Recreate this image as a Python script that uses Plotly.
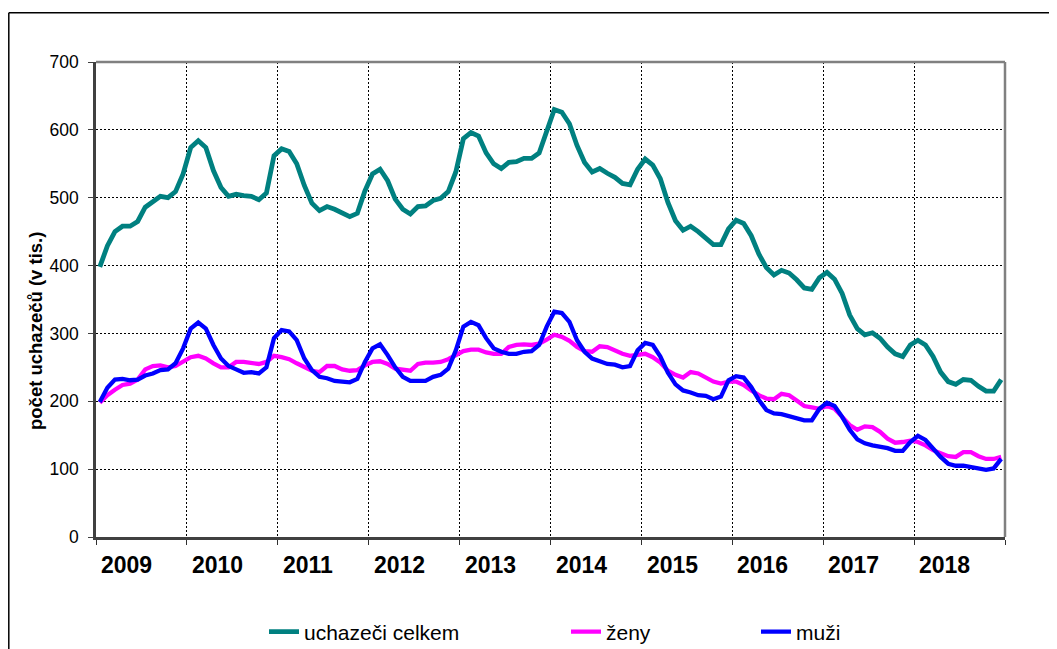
import plotly.graph_objects as go

# ---- data (monthly, Jan 2009 - Dec 2018), thousands ----
years = ["2009", "2010", "2011", "2012", "2013", "2014", "2015", "2016", "2017", "2018"]

uchazeci_celkem = [
    398, 429, 450, 458, 458, 465, 486, 495, 502, 500, 509, 535,
    574, 584, 574, 540, 515, 502, 505, 503, 502, 497, 507, 562,
    572, 568, 550, 518, 492, 481, 487, 483, 477, 472, 477, 510,
    535, 542, 525, 498, 483, 476, 487, 488, 496, 499, 509, 538,
    587, 596, 591, 566, 550, 543, 552, 553, 558, 558, 566, 597,
    630, 626, 609, 577, 552, 538, 543, 536, 530, 521, 519, 542,
    557, 548, 528, 493, 466, 452, 458, 450, 440, 431, 431, 454,
    467, 462, 444, 417, 397, 386, 393, 389, 379, 367, 365, 382,
    390, 380, 359, 327, 307, 298, 301, 293, 280, 270, 266, 283,
    290, 283, 266, 243, 229, 225, 232, 231, 222, 215, 215, 232,
]

zeny = [
    198, 209, 217, 224, 226, 232, 247, 252, 253, 250, 252, 258,
    265, 267, 263, 256, 250, 250, 258, 258, 257, 255, 258, 267,
    265, 262, 256, 250, 245, 243, 252, 252, 247, 245, 246, 253,
    258, 259, 255, 248, 246, 245, 255, 257, 257, 258, 262, 268,
    274, 276, 276, 272, 270, 270, 280, 283, 284, 283, 285, 291,
    298, 295, 289, 280, 274, 273, 281, 280, 275, 270, 267, 268,
    270, 265, 257, 245, 239, 235, 243, 241, 235, 229, 226, 229,
    229, 224, 216, 209, 204, 203, 211, 209, 201, 193, 191, 189,
    193, 189, 177, 165, 158, 163, 162, 155, 145, 139, 140, 142,
    140, 135, 128, 123, 119, 118, 125, 125, 119, 115, 115, 118,
]

muzi = [
    199, 220, 232, 233, 231, 232, 238, 241, 246, 247, 256, 278,
    307, 316, 307, 283, 263, 252, 247, 242, 243, 241, 250, 293,
    305, 303, 290, 263, 246, 236, 234, 230, 229, 228, 233, 258,
    278, 284, 268, 250, 236, 230, 230, 230, 236, 239, 248, 275,
    310, 317, 312, 293, 278, 273, 270, 270, 273, 274, 283, 310,
    332, 330, 317, 290, 273, 263, 259, 255, 254, 250, 252, 275,
    286, 283, 266, 242, 225, 216, 213, 209, 208, 203, 207, 231,
    237, 235, 221, 202, 187, 182, 181, 178, 176, 172, 172, 189,
    198, 193, 177, 158, 144, 138, 135, 133, 131, 127, 127, 140,
    149, 143, 130, 118, 108, 105, 105, 103, 102, 99, 101, 115,
]

series_names = ["uchazeči celkem", "ženy", "muži"]

# ---- layout geometry (page has an 8px body margin) ----
OFF = 8
W, H = 1057 - OFF, 649 - OFF
L, R, T, B = 96 - OFF, 52, 62 - OFF, 112
PW, PH = W - L - R, H - T - B
FONT = "Liberation Sans, Arial, sans-serif"


def px_x(px_page):
    return (px_page - OFF - L) / PW


def px_y(py_page):
    return (H - B - (py_page - OFF)) / PH


months = list(range(len(uchazeci_celkem)))

fig = go.Figure()
styles = [("#008080", 4.8, "legend"), ("#FF00FF", 4.3, "legend2"), ("#0000FF", 4.3, "legend3")]
for name, vals, (col, w, lg) in zip(series_names, [uchazeci_celkem, zeny, muzi], styles):
    fig.add_trace(go.Scatter(
        x=months, y=vals, mode="lines", name=name,
        line=dict(color=col, width=w, shape="linear"),
        legend=lg,
    ))

n_years = len(years)
grid_vals = [12 * k - 0.5 for k in range(n_years + 1)]

fig.update_xaxes(
    range=[-0.5, len(months) - 0.5],
    tickvals=grid_vals, showticklabels=False,
    ticks="outside", ticklen=5, tickcolor="#303030", tickwidth=1,
    showgrid=True, gridcolor="#000000", gridwidth=1, griddash="2px,2px",
    showline=True, linecolor="#404040", linewidth=2.5,
    zeroline=False, fixedrange=True,
)
fig.update_yaxes(
    range=[0, 700], dtick=100, tick0=0,
    ticks="outside", ticklen=5, tickcolor="#404040", tickwidth=1,
    tickfont=dict(family=FONT, size=17.5, color="#000000"),
    ticklabelstandoff=6,
    showgrid=True, gridcolor="#000000", gridwidth=1, griddash="2px,2px",
    showline=True, linecolor="#404040", linewidth=2.5,
    zeroline=False, fixedrange=True,
)

shapes = [
    # top and right plot border (grey)
    dict(type="line", xref="paper", yref="paper", x0=0, x1=1, y0=1, y1=1,
         line=dict(color="#808080", width=2.5)),
    dict(type="line", xref="paper", yref="paper", x0=1, x1=1, y0=0, y1=1,
         line=dict(color="#808080", width=2.5)),
    # outer chart frame (left and top)
    dict(type="line", xref="paper", yref="paper", x0=px_x(8.8), x1=px_x(1057 + 5),
         y0=px_y(12.7), y1=px_y(12.7), line=dict(color="#000000", width=1.5)),
    dict(type="line", xref="paper", yref="paper", x0=px_x(8.8), x1=px_x(8.8),
         y0=px_y(12.7), y1=px_y(649 + 5), line=dict(color="#000000", width=1.5)),
]

annotations = [
    dict(text="<b>" + y + "</b>", x=12 * k + 3.55, xref="x", y=px_y(565), yref="paper",
         showarrow=False, xanchor="center", yanchor="middle",
         font=dict(family=FONT, size=23, color="#000000"))
    for k, y in enumerate(years)
]
annotations.append(dict(
    text="<b>počet uchazečů (v tis.)</b>", textangle=-90,
    x=px_x(35), xref="paper", y=px_y(331), yref="paper",
    showarrow=False, xanchor="center", yanchor="middle",
    font=dict(family=FONT, size=18.5, color="#000000"),
))

legend_text_start = [304, 606, 796]
leg_common = dict(orientation="h", yref="paper", y=px_y(632), yanchor="middle",
                  xanchor="left", bgcolor="rgba(0,0,0,0)", borderwidth=0,
                  font=dict(family=FONT, size=21, color="#000000"), itemwidth=30)

fig.update_layout(
    width=W, height=H,
    margin=dict(l=L, r=R, t=T, b=B, pad=0, autoexpand=False),
    paper_bgcolor="#FFFFFF", plot_bgcolor="#FFFFFF",
    font=dict(family=FONT, color="#000000"),
    shapes=shapes, annotations=annotations,
    legend=dict(x=px_x(legend_text_start[0] - 40), **leg_common),
    legend2=dict(x=px_x(legend_text_start[1] - 40), **leg_common),
    legend3=dict(x=px_x(legend_text_start[2] - 40), **leg_common),
    showlegend=True,
)

fig.write_html("out.html")
